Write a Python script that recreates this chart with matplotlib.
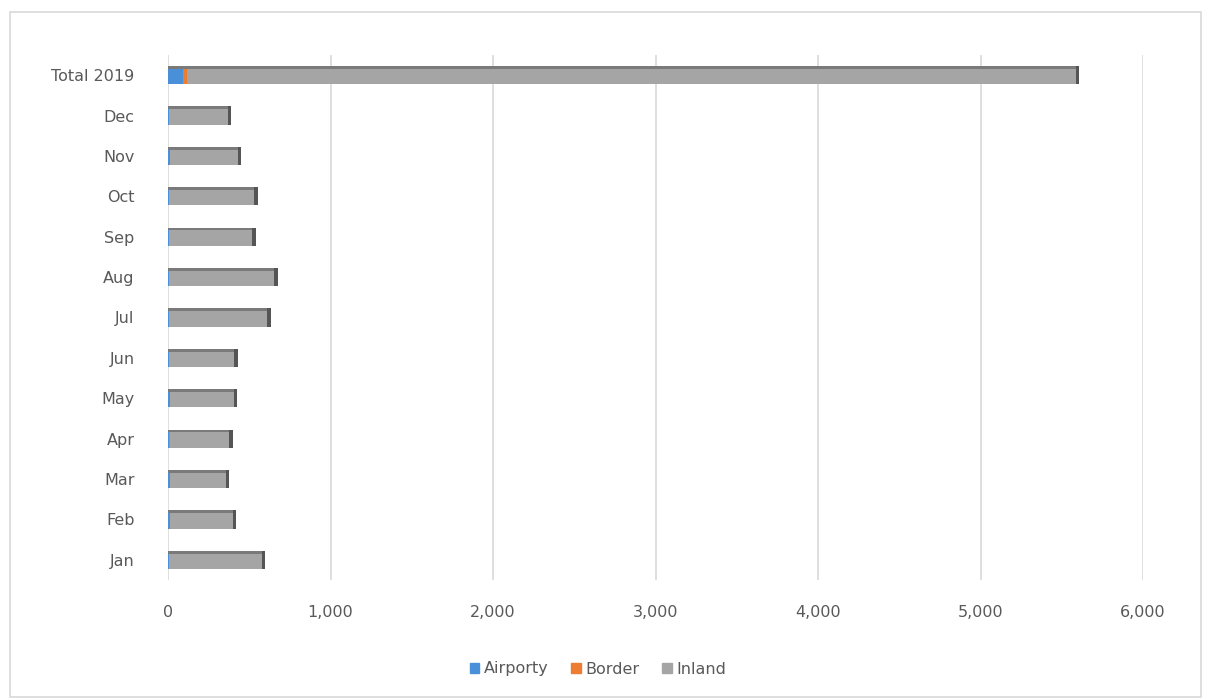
import matplotlib.pyplot as plt
import matplotlib.patches as mpatches
import numpy as np
from matplotlib.ticker import FuncFormatter

categories = ['Jan', 'Feb', 'Mar', 'Apr', 'May', 'Jun', 'Jul', 'Aug',
              'Sep', 'Oct', 'Nov', 'Dec', 'Total 2019']
airport = [5, 12, 12, 8, 12, 5, 5, 5, 5, 5, 12, 5, 95]
border = [2, 2, 2, 2, 2, 2, 2, 2, 2, 2, 2, 2, 20]
inland = [570, 385, 340, 368, 390, 402, 605, 645, 510, 525, 415, 360, 5470]

W, H = 1207, 699
fig = plt.figure(figsize=(W / 100, H / 100), dpi=100)
fig.patch.set_facecolor('white')

# outer chart frame
fig.add_artist(mpatches.Rectangle((10 / W, 2 / H), 1191 / W, 685 / H,
                                  transform=fig.transFigure, fill=False,
                                  edgecolor='#d9d9d9', linewidth=1.2))

ax = fig.add_axes([168 / W, 1 - 580 / H, (1143 - 168) / W, (580 - 55) / H])

y = np.arange(len(categories))
h = 0.45
colors = {'Airporty': '#4a90d9', 'Border': '#ed7d31', 'Inland': '#a5a5a5'}

left = np.zeros(len(categories))
for name, vals in [('Airporty', airport), ('Border', border), ('Inland', inland)]:
    ax.barh(y, vals, height=h, left=left, color=colors[name], edgecolor='none',
            label=name, zorder=3)
    left = left + np.array(vals)

# fake 3D: dark top strip and end cap
ax.barh(y + h / 2 - 0.035, left, height=0.07, color='#7a7a7a', edgecolor='none', zorder=4)
ax.barh(y, left * 0 + 22, left=left, height=h, color='#555555', edgecolor='none', zorder=4)

ax.set_xlim(0, 6000)
ax.set_ylim(-0.5, len(categories) - 0.5)
ax.set_yticks(y)
ax.set_yticklabels(categories)
ax.set_xticks(np.arange(0, 6001, 1000))
ax.xaxis.set_major_formatter(FuncFormatter(lambda v, p: f'{int(v):,}'))
ax.grid(axis='x', color='#d9d9d9', linewidth=1.2, zorder=0)
ax.set_axisbelow(True)
for s in ax.spines.values():
    s.set_visible(False)
ax.tick_params(axis='both', length=0, labelsize=11.5, colors='#595959')
ax.tick_params(axis='x', pad=18)
ax.tick_params(axis='y', pad=24)

handles = [mpatches.Patch(color=colors[n], label=n) for n in colors]
fig.legend(handles=handles, loc='center', bbox_to_anchor=(598 / W, 1 - 669 / H),
           ncol=3, frameon=False, fontsize=11.5, handlelength=0.6, handleheight=0.6,
           handletextpad=0.3, columnspacing=1.4, labelcolor='#595959')

fig.savefig('out.png', dpi=100, facecolor='white')
